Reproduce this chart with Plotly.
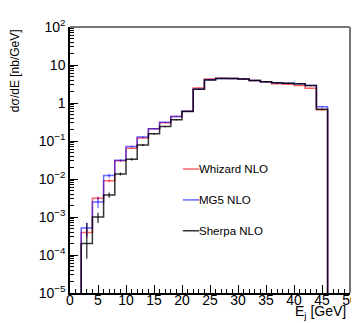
import plotly.graph_objects as go

# bin edges [GeV]
edges = [2, 4, 6, 8, 10, 12, 14, 16, 18, 20, 22, 24, 26, 28, 30, 32, 34, 36, 38, 40, 42, 44, 46]

whizard = [3.9e-4, 3.1e-3, 9.0e-3, 0.030, 0.064, 0.12, 0.21, 0.30, 0.44, 0.61,
           2.5, 4.3, 4.5, 4.4, 4.3, 3.9, 3.6, 3.2, 3.1, 2.9, 2.45, 0.66]
whizard_err = [1.0e-4, 4.0e-4, 8.0e-4, 1.5e-3, 2.5e-3, 4e-3, 5e-3, 6e-3, 8e-3, 1e-2,
               0.05, 0.08, 0.08, 0.08, 0.08, 0.07, 0.07, 0.07, 0.07, 0.07, 0.06, 0.03]

mg5 = [5.1e-4, 2.5e-3, 0.0123, 0.031, 0.072, 0.127, 0.21, 0.31, 0.44, 0.61,
       2.3, 4.1, 4.4, 4.4, 4.3, 3.9, 3.6, 3.4, 3.3, 3.2, 2.9, 0.80]
mg5_err = [2.0e-4, 8.0e-4, 1.5e-3, 2.0e-3, 3e-3, 4e-3, 5e-3, 6e-3, 8e-3, 1e-2,
           0.05, 0.08, 0.08, 0.08, 0.08, 0.07, 0.07, 0.07, 0.07, 0.07, 0.06, 0.04]

sherpa = [2.0e-4, 1.0e-3, 3.8e-3, 0.0136, 0.033, 0.079, 0.155, 0.24, 0.36, 0.60,
          2.3, 4.0, 4.4, 4.4, 4.3, 3.9, 3.6, 3.4, 3.3, 3.2, 2.9, 0.68]
sherpa_err_up = [4.9e-4, 3.0e-4, 6e-4, 1.2e-3, 2.5e-3, 5e-3, 8e-3, 1e-2, 1.2e-2, 1.5e-2,
                 0.06, 0.08, 0.08, 0.08, 0.08, 0.07, 0.07, 0.07, 0.07, 0.07, 0.06, 0.03]
sherpa_err_dn = [1.2e-4, 3.0e-4, 6e-4, 1.2e-3, 2.5e-3, 5e-3, 8e-3, 1e-2, 1.2e-2, 1.5e-2,
                 0.06, 0.08, 0.08, 0.08, 0.08, 0.07, 0.07, 0.07, 0.07, 0.07, 0.06, 0.03]

series_names = ["Whizard NLO", "MG5 NLO", "Sherpa NLO"]
series_colors = ["rgba(255,0,0,0.6)", "rgba(0,0,255,0.6)", "rgba(0,0,0,0.8)"]

y_floor = 1e-7
ytick_vals = [1e-5, 1e-4, 1e-3, 1e-2, 1e-1, 1, 10, 100]
ytick_text = ["10<sup>\u22125</sup>", "10<sup>\u22124</sup>", "10<sup>\u22123</sup>",
              "10<sup>\u22122</sup>", "10<sup>\u22121</sup>", "1", "10", "10<sup>2</sup>"]
xtick_vals = [0, 5, 10, 15, 20, 25, 30, 35, 40, 45, 50]

fig = go.Figure()

data = [(whizard, whizard_err, whizard_err),
        (mg5, mg5_err, mg5_err),
        (sherpa, sherpa_err_up, sherpa_err_dn)]

centers = [(edges[i] + edges[i + 1]) / 2 for i in range(len(edges) - 1)]

for (vals, eup, edn), name, col in zip(data, series_names, series_colors):
    # step outline: rises from the floor at the first edge, drops back at the last
    xs = [edges[0]] + edges
    ys = [y_floor] + vals + [y_floor]
    fig.add_trace(go.Scatter(x=xs, y=ys, mode="lines", line=dict(color=col, width=1.5, shape="hv"),
                             showlegend=False, hoverinfo="skip", cliponaxis=True))
    fig.add_trace(go.Scatter(x=centers, y=vals, mode="markers", marker=dict(size=0.1, color=col),
                             error_y=dict(type="data", array=eup, arrayminus=edn, symmetric=False,
                                          color=col, thickness=1.3, width=0),
                             showlegend=False, hoverinfo="skip"))

font_family = "Liberation Sans, Arial, sans-serif"

fig.update_layout(
    width=359, height=323,
    margin=dict(l=62, r=9, t=11, b=38),
    paper_bgcolor="white", plot_bgcolor="white",
    font=dict(family=font_family, size=14, color="black"),
    showlegend=False,
)

fig.update_xaxes(range=[0, 50], tickvals=xtick_vals, ticks="inside", ticklen=8, tickwidth=1,
                 tickcolor="black", showline=True, linecolor="black", linewidth=1.5, mirror=False,
                 showgrid=False, zeroline=False, tickfont=dict(size=14), ticklabelstandoff=-7,
                 minor=dict(dtick=1, ticks="inside", ticklen=4, tickcolor="black", showgrid=False))
fig.update_yaxes(type="log", range=[-5, 2], tickvals=ytick_vals, ticktext=ytick_text,
                 ticks="inside", ticklen=8, tickwidth=1, tickcolor="black",
                 showline=True, linecolor="black", linewidth=1.5, mirror=False,
                 showgrid=False, zeroline=False, tickfont=dict(size=14),
                 minor=dict(dtick="D1", ticks="inside", ticklen=4, tickcolor="black", showgrid=False))

# frame top/right
fig.add_shape(type="line", xref="paper", yref="paper", x0=0, x1=1, y0=1, y1=1,
              line=dict(color="#777", width=2))
fig.add_shape(type="line", xref="paper", yref="paper", x0=1, x1=1, y0=0, y1=1,
              line=dict(color="#777", width=2))

# axis titles
fig.add_annotation(text="d\u03c3/dE [nb/GeV]", xref="paper", yref="paper", x=-0.198, y=0.836,
                   textangle=-90, showarrow=False, font=dict(size=12), xanchor="center", yanchor="middle")
fig.add_annotation(text="E<sub>j</sub> [GeV]", xref="paper", yref="paper", x=0.99, y=-0.033,
                   showarrow=False, font=dict(size=14), xanchor="right", yanchor="top",
                   borderpad=0)

# legend (manual)
leg_y = [0.466, 0.350, 0.234]
for name, col, yy in zip(series_names, series_colors, leg_y):
    fig.add_shape(type="line", xref="paper", yref="paper", x0=0.403, x1=0.462, y0=yy, y1=yy,
                  line=dict(color=col, width=1.5))
    fig.add_annotation(text=name, xref="paper", yref="paper", x=0.455, y=yy, showarrow=False,
                       font=dict(size=11.5), xanchor="left", yanchor="middle")

fig.write_html("out.html")
